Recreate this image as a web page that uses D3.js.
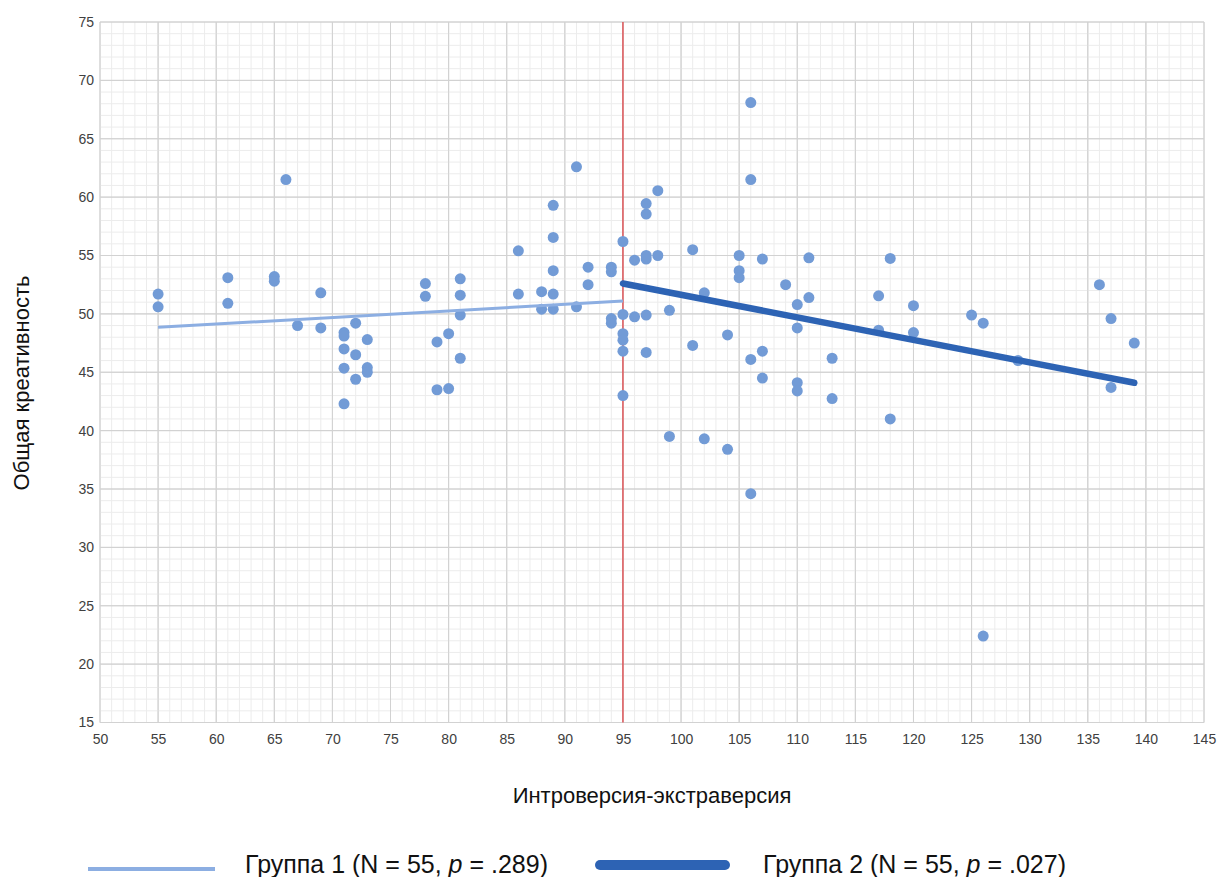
<!DOCTYPE html>
<html>
<head>
<meta charset="utf-8">
<script src="https://cdnjs.cloudflare.com/ajax/libs/d3/7.8.5/d3.min.js"></script>
<style>
  body { margin: 0; background: #fff; }
  svg { display: block; }
</style>
</head>
<body>
<script>
// data: [intro-extraversion, creativity]
const group1 = [
  [55, 51.7], [55, 50.6], [61, 53.1], [61, 50.9], [65, 53.2], [65, 52.8], [66, 61.5],
  [67, 49.0], [69, 51.8], [69, 48.8], [71, 48.4], [71, 48.1], [71, 47.0], [71, 45.35],
  [71, 42.3], [72, 49.2], [72, 46.5], [72, 44.4], [73, 47.8], [73, 45.4], [73, 45.0],
  [78, 52.6], [78, 51.5], [79, 47.6], [79, 43.5], [80, 48.3], [80, 43.6], [81, 53.0],
  [81, 51.6], [81, 49.9], [81, 46.2], [86, 55.4], [86, 51.7], [88, 51.9], [88, 50.4],
  [89, 59.3], [89, 56.55], [89, 53.7], [89, 51.7], [89, 50.4], [91, 62.6], [91, 50.6],
  [92, 54.0], [92, 52.5], [94, 54.0], [94, 53.6], [94, 49.6], [94, 49.2], [95, 56.2],
  [95, 49.95], [95, 48.3], [95, 47.75], [95, 46.8], [95, 43.0]
]

const group2 = [
  [96, 54.6], [96, 49.75], [97, 59.45], [97, 58.55], [97, 55.0], [97, 54.7], [97, 49.9],
  [97, 46.7], [98, 60.55], [98, 55.0], [99, 50.3], [99, 39.5], [101, 55.5], [101, 47.3],
  [102, 51.8], [102, 39.3], [104, 48.2], [104, 38.4], [105, 55.0], [105, 53.7], [105, 53.1],
  [106, 68.1], [106, 61.5], [106, 46.1], [106, 34.6], [107, 54.7], [107, 46.8], [107, 44.5],
  [109, 52.5], [110, 50.8], [110, 48.8], [110, 44.1], [110, 43.4], [111, 54.8], [111, 51.4],
  [113, 46.2], [113, 42.75], [117, 51.55], [117, 48.6], [118, 54.75], [118, 41.0],
  [120, 50.7], [120, 48.4], [125, 49.9], [126, 49.2], [126, 22.4], [129, 46.0],
  [136, 52.5], [137, 49.6], [137, 43.7], [139, 47.5]
]

// regression line ends
const trend1 = [[55, 48.85], [95, 51.1]]
const trend2 = [[95, 52.6], [139, 44.1]]

const cutoff = 95
const xTicks = d3.range(50, 146, 5)
const yTicks = d3.range(15, 76, 5)
const legendLabels = ['Группа 1 (N = 55, ', 'Группа 2 (N = 55, ']
const legendP = ['.289)', '.027)']

const w = 1219
const h = 877

const svg = d3.select('body')
  .append('svg')
  .attr('width', w)
  .attr('height', h)

const xScale = d3.scaleLinear()
  .domain([50, 145])
  .range([100, 1204])

const yScale = d3.scaleLinear()
  .domain([15, 75])
  .range([722.5, 22])

// grid: minor every 1, major every 5
const grid = svg.append('g')
grid.selectAll('.vminor')
  .data(d3.range(50, 146, 1))
  .enter()
  .append('line')
  .attr('x1', d => xScale(d)).attr('x2', d => xScale(d))
  .attr('y1', yScale(15)).attr('y2', yScale(75))
  .attr('stroke', d => d % 5 === 0 ? '#d2d2d2' : '#ececec')
  .attr('stroke-width', 1)
grid.selectAll('.hminor')
  .data(d3.range(15, 76, 1))
  .enter()
  .append('line')
  .attr('y1', d => yScale(d)).attr('y2', d => yScale(d))
  .attr('x1', xScale(50)).attr('x2', xScale(145))
  .attr('stroke', d => d % 5 === 0 ? '#d2d2d2' : '#ececec')
  .attr('stroke-width', 1)
// redraw majors on top of minors
grid.selectAll('.vmajor')
  .data(xTicks)
  .enter()
  .append('line')
  .attr('x1', d => xScale(d)).attr('x2', d => xScale(d))
  .attr('y1', yScale(15)).attr('y2', yScale(75))
  .attr('stroke', '#d2d2d2')
grid.selectAll('.hmajor')
  .data(yTicks)
  .enter()
  .append('line')
  .attr('y1', d => yScale(d)).attr('y2', d => yScale(d))
  .attr('x1', xScale(50)).attr('x2', xScale(145))
  .attr('stroke', '#d2d2d2')

// axes (labels only)
const xAxis = d3.axisBottom(xScale).tickValues(xTicks).tickSize(0).tickPadding(12)
const yAxis = d3.axisLeft(yScale).tickValues(yTicks).tickSize(0).tickPadding(6)

svg.append('g')
  .attr('transform', 'translate(0,' + yScale(15) + ')')
  .call(xAxis)
  .call(g => g.select('.domain').remove())
  .selectAll('text')
  .attr('font-family', 'Liberation Sans, Arial, sans-serif')
  .attr('font-size', 14)
  .attr('fill', '#404040')

svg.append('g')
  .attr('transform', 'translate(' + xScale(50) + ',0)')
  .call(yAxis)
  .call(g => g.select('.domain').remove())
  .selectAll('text')
  .attr('font-family', 'Liberation Sans, Arial, sans-serif')
  .attr('font-size', 14)
  .attr('fill', '#404040')

// cutoff line
svg.append('line')
  .attr('x1', xScale(cutoff)).attr('x2', xScale(cutoff))
  .attr('y1', yScale(75)).attr('y2', yScale(15))
  .attr('stroke', '#e0363a')
  .attr('stroke-width', 1.2)

// points
svg.append('g')
  .selectAll('circle')
  .data(group1.concat(group2))
  .enter()
  .append('circle')
  .attr('cx', d => xScale(d[0]))
  .attr('cy', d => yScale(d[1]))
  .attr('r', 5.5)
  .attr('fill', '#729bd6')

const line = d3.line()
  .x(d => xScale(d[0]))
  .y(d => yScale(d[1]))

svg.append('path')
  .datum(trend1)
  .attr('d', line)
  .attr('fill', 'none')
  .attr('stroke', '#8caee2')
  .attr('stroke-width', 3)

svg.append('path')
  .datum(trend2)
  .attr('d', line)
  .attr('fill', 'none')
  .attr('stroke', '#2d63b4')
  .attr('stroke-width', 6.5)
  .attr('stroke-linecap', 'round')

// axis titles
svg.append('text')
  .attr('x', 652)
  .attr('y', 803)
  .attr('text-anchor', 'middle')
  .attr('font-family', 'Liberation Sans, Arial, sans-serif')
  .attr('font-size', 22)
  .attr('fill', '#111')
  .text('Интроверсия-экстраверсия')

svg.append('text')
  .attr('transform', 'translate(29,383) rotate(-90)')
  .attr('text-anchor', 'middle')
  .attr('font-family', 'Liberation Sans, Arial, sans-serif')
  .attr('font-size', 22)
  .attr('fill', '#111')
  .text('Общая креативность')

// legend
const legend = [
  { x1: 88, x2: 215, y: 869, color: '#8caee2', width: 4, cap: 'butt', tx: 245 },
  { x1: 600, x2: 725, y: 865, color: '#2d63b4', width: 10, cap: 'round', tx: 763 }
]
legend.forEach((l, i) => {
  svg.append('line')
    .attr('x1', l.x1).attr('x2', l.x2)
    .attr('y1', l.y).attr('y2', l.y)
    .attr('stroke', l.color)
    .attr('stroke-width', l.width)
    .attr('stroke-linecap', l.cap)
  const t = svg.append('text')
    .attr('x', l.tx)
    .attr('y', 873)
    .attr('font-family', 'Liberation Sans Narrow, Arial Narrow, sans-serif')
    .attr('font-size', 25)
    .attr('fill', '#111')
  t.append('tspan').text(legendLabels[i])
  t.append('tspan').attr('font-style', 'italic').text('p')
  t.append('tspan').text(' = ' + legendP[i])
})
</script>
</body>
</html>
